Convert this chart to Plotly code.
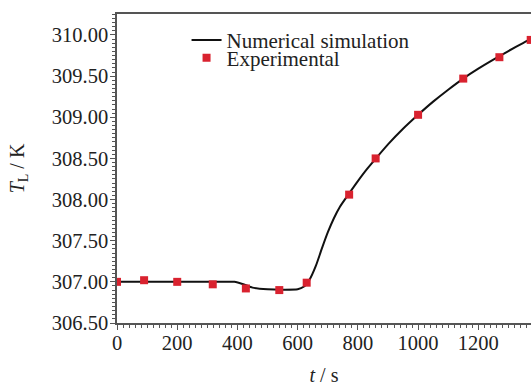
import plotly.graph_objects as go

# Numerical simulation curve: time (s) and liquid temperature (K)
sim_t = [0, 100, 200, 300, 390, 420, 450, 500, 550, 600, 620, 640, 660, 680,
         700, 720, 740, 770, 800, 830, 860, 900, 950, 1000, 1050, 1100, 1150,
         1200, 1250, 1300, 1350, 1385]
sim_T = [307.00, 307.00, 307.00, 307.00, 307.00, 306.97, 306.93, 306.91,
         306.905, 306.91, 306.94, 307.03, 307.19, 307.40, 307.60, 307.77,
         307.91, 308.07, 308.225, 308.37, 308.50, 308.67, 308.86, 309.03,
         309.19, 309.335, 309.47, 309.59, 309.70, 309.805, 309.905, 309.97]

# Experimental measurements
exp_t = [0, 90, 200, 318, 428, 539, 630, 771, 859, 1000, 1150, 1270, 1374]
exp_T = [307.00, 307.02, 307.00, 306.97, 306.92, 306.90, 306.99, 308.06,
         308.50, 309.03, 309.47, 309.73, 309.94]

x_ticks = [0, 200, 400, 600, 800, 1000, 1200]
y_ticks = [306.50, 307.00, 307.50, 308.00, 308.50, 309.00, 309.50, 310.00]
y_labels = [f"{v:.2f}" for v in y_ticks]

FONT = "Liberation Serif, Times New Roman, serif"
INK = "#222222"
RED = "#d9222f"

fig = go.Figure()
fig.add_trace(go.Scatter(
    x=sim_t, y=sim_T, mode="lines", name="Numerical simulation",
    line=dict(color="#111111", width=2, shape="spline", smoothing=0.6),
    legend="legend",
))
fig.add_trace(go.Scatter(
    x=exp_t, y=exp_T, mode="markers", name="Experimental",
    marker=dict(symbol="square", size=8, color=RED),
    legend="legend2",
))

axis_common = dict(
    showgrid=False, zeroline=False, showline=True, linecolor="#555555",
    linewidth=1.5, ticks="outside", ticklen=5, tickwidth=1.2,
    tickcolor="#555555", tickfont=dict(family=FONT, size=20.5, color=INK),
)

fig.update_xaxes(
    range=[0, 1375], tickvals=x_ticks, mirror=True, ticklabelstandoff=-4,
    minor=dict(dtick=20, ticklen=3, tickcolor="#555555", ticks="outside"),
    title=dict(text="<i>t</i> / s", font=dict(family=FONT, size=20, color=INK),
               standoff=16),
    **axis_common,
)
fig.update_yaxes(
    range=[306.5, 310.255], tickvals=y_ticks, ticktext=y_labels,
    ticklabelstandoff=-2,
    minor=dict(dtick=0.05, ticklen=3, tickcolor="#555555", ticks="outside"),
    title=dict(text="<i>T</i><sub>L</sub> / K",
               font=dict(family=FONT, size=20, color=INK), standoff=22),
    **axis_common,
)

legend_style = dict(
    xanchor="left", yanchor="middle",
    bgcolor="rgba(0,0,0,0)", borderwidth=0,
    font=dict(family=FONT, size=21, color=INK),
    itemwidth=30,
)

fig.update_layout(
    width=531, height=386,
    margin=dict(l=117, r=0, t=14, b=63),
    paper_bgcolor="white", plot_bgcolor="white",
    showlegend=True,
    legend=dict(x=0.168, y=0.915, **legend_style),
    legend2=dict(x=0.168, y=0.857, **legend_style),
)

fig.write_html("out.html")
